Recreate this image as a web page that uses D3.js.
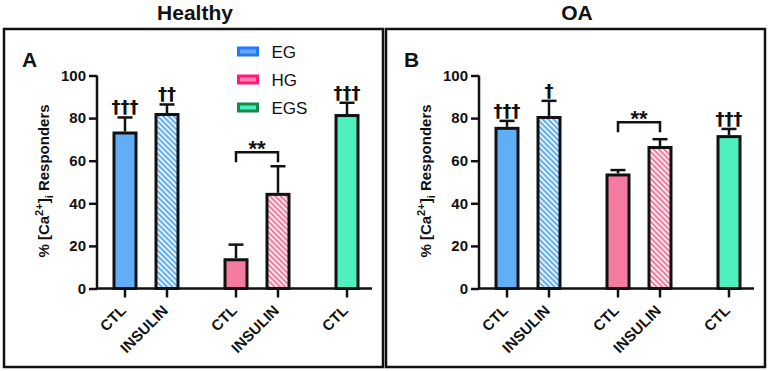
<!DOCTYPE html>
<html>
<head>
<style>
    body { margin: 0; background: #fff; }
    svg text { font-family: "Liberation Sans", Arial, sans-serif; fill: #111; }
</style>
<script src="https://d3js.org/d3.v7.min.js"></script>
</head>
<body>
<svg id="chart" width="768" height="371"></svg>
<script>
    // categories
    var groups = ["EG", "HG", "EGS"];
    var treatments = ["CTL", "INSULIN"];
    var barGroup = ["EG", "EG", "HG", "HG", "EGS"];
    var barTreat = ["CTL", "INSULIN", "CTL", "INSULIN", "CTL"];

    // values (% responders, mean and error)
    var healthyMean = [73, 81.7, 13.5, 44.2, 81.2];
    var healthyErr  = [7.3, 4.7, 7.1, 13.2, 6.0];
    var oaMean = [75.2, 80.3, 53.3, 66.2, 71.3];
    var oaErr  = [3.5, 7.8, 2.3, 3.9, 3.6];

    var healthyDaggers = ["†††", "††", "", "", "†††"];
    var oaDaggers = ["†††", "†", "", "", "†††"];
    var healthyBracket = 64;
    var oaBracket = 78;

    var yTicks = [0, 20, 40, 60, 80, 100];

    var fills = { EG: "#62aef6", HG: "#f57a9f", EGS: "#4ff0c0" };
    var legendStroke = { EG: "#1e7dff", HG: "#ff1a7a", EGS: "#138a4a" };
    var legendFill = { EG: "#6aa3f2", HG: "#ff7fae", EGS: "#4ff0c0" };

    var svg = d3.select("#chart");
    var defs = svg.append("defs");

    // diagonal hatch for insulin bars
    groups.forEach(function (g) {
        var p = defs.append("pattern")
            .attr("id", "hatch-" + g)
            .attr("patternUnits", "userSpaceOnUse")
            .attr("width", 3.8).attr("height", 3.8)
            .attr("patternTransform", "rotate(-45)");
        p.append("rect").attr("width", 3.8).attr("height", 3.8).attr("fill", fills[g]);
        p.append("rect").attr("width", 1.6).attr("height", 3.8).attr("fill", "#fff");
    });

    var axW = 275;
    var y = d3.scaleLinear().domain([0, 100]).range([213, 0]);
    var xGroup = d3.scalePoint().domain(groups).range([49, 271]);
    var xTreat = d3.scalePoint().domain(treatments).range([-21, 21]);
    var barW = 22;

    function xPos(i) { return xGroup(barGroup[i]) + xTreat(barTreat[i]); }

    function drawPanel(ox, title, letter, means, errs, daggers, bracket, legend) {
        var panel = svg.append("g").attr("transform", "translate(" + ox + ",0)");

        panel.append("rect")
            .attr("x", 4).attr("y", 29).attr("width", 379).attr("height", 338)
            .attr("fill", "none").attr("stroke", "#111").attr("stroke-width", 2.5);

        panel.append("text")
            .attr("x", 195).attr("y", 20)
            .attr("text-anchor", "middle")
            .style("font-size", "21px").style("font-weight", "bold")
            .text(title);

        panel.append("text")
            .attr("x", 22).attr("y", 67)
            .style("font-size", "21px").style("font-weight", "bold")
            .text(letter);

        var g = panel.append("g").attr("transform", "translate(97,75.5)");

        var data = means.map(function (m, i) {
            return { i: i, mean: m, err: errs[i], dag: daggers[i] };
        });

        // bars
        g.selectAll(".bar").data(data).enter().append("rect")
            .attr("class", "bar")
            .attr("x", function (d) { return xPos(d.i) - barW / 2; })
            .attr("y", function (d) { return y(d.mean); })
            .attr("width", barW)
            .attr("height", function (d) { return y(0) - y(d.mean); })
            .attr("fill", function (d) {
                return barTreat[d.i] === "INSULIN" ? "url(#hatch-" + barGroup[d.i] + ")" : fills[barGroup[d.i]];
            })
            .attr("stroke", "#111").attr("stroke-width", 3);

        // error bars
        var eb = g.selectAll(".err").data(data).enter().append("g").attr("class", "err")
            .attr("stroke", "#111").attr("stroke-width", 2.5);
        eb.append("line")
            .attr("x1", function (d) { return xPos(d.i); })
            .attr("x2", function (d) { return xPos(d.i); })
            .attr("y1", function (d) { return y(d.mean) - 1.5; })
            .attr("y2", function (d) { return y(d.mean + d.err); });
        eb.append("line")
            .attr("x1", function (d) { return xPos(d.i) - 7.5; })
            .attr("x2", function (d) { return xPos(d.i) + 7.5; })
            .attr("y1", function (d) { return y(d.mean + d.err); })
            .attr("y2", function (d) { return y(d.mean + d.err); });

        // daggers
        g.selectAll(".dag").data(data).enter().append("text")
            .attr("class", "dag")
            .attr("x", function (d) { return xPos(d.i); })
            .attr("y", function (d) { return y(d.mean + d.err) - 4; })
            .attr("text-anchor", "middle")
            .style("font-family", "DejaVu Sans, sans-serif")
            .style("font-size", "18px").style("font-weight", "bold")
            .text(function (d) { return d.dag; });

        // significance bracket between HG CTL and HG INSULIN
        var bx1 = xPos(2), bx2 = xPos(3), by = y(bracket);
        g.append("path")
            .attr("d", "M" + bx1 + "," + (by + 10) + "V" + by + "H" + bx2 + "V" + (by + 10))
            .attr("fill", "none").attr("stroke", "#111").attr("stroke-width", 2.5);
        g.append("text")
            .attr("x", (bx1 + bx2) / 2).attr("y", by + 4)
            .attr("text-anchor", "middle")
            .style("font-size", "22px").style("font-weight", "bold")
            .text("**");

        // y axis
        var yAxis = g.append("g")
            .call(d3.axisLeft(y).tickValues(yTicks).tickSize(8).tickPadding(3));
        yAxis.selectAll("line, path").attr("stroke", "#111").attr("stroke-width", 2.5);
        yAxis.select(".domain").attr("d", "M0," + y(100) + "V" + y(0));
        yAxis.selectAll("text")
            .style("font-size", "15px").style("font-weight", "bold")
            .style("font-family", "Liberation Sans, Arial, sans-serif").attr("fill", "#111");

        // x axis
        var xAxis = g.append("g").attr("transform", "translate(0," + y(0) + ")");
        xAxis.append("line").attr("x1", 0).attr("x2", axW)
            .attr("stroke", "#111").attr("stroke-width", 2.5);
        xAxis.selectAll(".xt").data(data).enter().append("line")
            .attr("class", "xt")
            .attr("x1", function (d) { return xPos(d.i); })
            .attr("x2", function (d) { return xPos(d.i); })
            .attr("y1", 0).attr("y2", 9)
            .attr("stroke", "#111").attr("stroke-width", 2.5);
        xAxis.selectAll(".xl").data(data).enter().append("g")
            .attr("class", "xl")
            .attr("transform", function (d) {
                return "translate(" + (xPos(d.i) + 2) + ",23) rotate(-45)";
            })
            .append("text")
            .attr("text-anchor", "end")
            .style("font-size", "15px").style("font-weight", "bold")
            .text(function (d) { return barTreat[d.i]; });

        // y label
        var yl = panel.append("text")
            .attr("transform", "translate(49,181) rotate(-90)")
            .attr("text-anchor", "middle")
            .style("font-size", "15px").style("font-weight", "bold");
        yl.append("tspan").text("% [Ca");
        yl.append("tspan").attr("dy", -6).style("font-size", "11px").text("2+");
        yl.append("tspan").attr("dy", 6).text("]");
        yl.append("tspan").attr("dy", 4).style("font-size", "11px").text("i");
        yl.append("tspan").attr("dy", -4).text(" Responders");

        if (legend) {
            var lg = panel.selectAll(".leg").data(groups).enter().append("g")
                .attr("class", "leg")
                .attr("transform", function (d, i) { return "translate(238.5," + (51.5 + i * 28) + ")"; });
            lg.append("rect")
                .attr("x", 0).attr("y", -3.5).attr("width", 19).attr("height", 7)
                .attr("fill", function (d) { return legendFill[d]; })
                .attr("stroke", function (d) { return legendStroke[d]; })
                .attr("stroke-width", 3);
            lg.append("text")
                .attr("x", 33).attr("y", 6.5)
                .style("font-size", "17px")
                .text(function (d) { return d; });
        }
    }

    drawPanel(0, "Healthy", "A", healthyMean, healthyErr, healthyDaggers, healthyBracket, true);
    drawPanel(382, "OA", "B", oaMean, oaErr, oaDaggers, oaBracket, false);
</script>
</body>
</html>
